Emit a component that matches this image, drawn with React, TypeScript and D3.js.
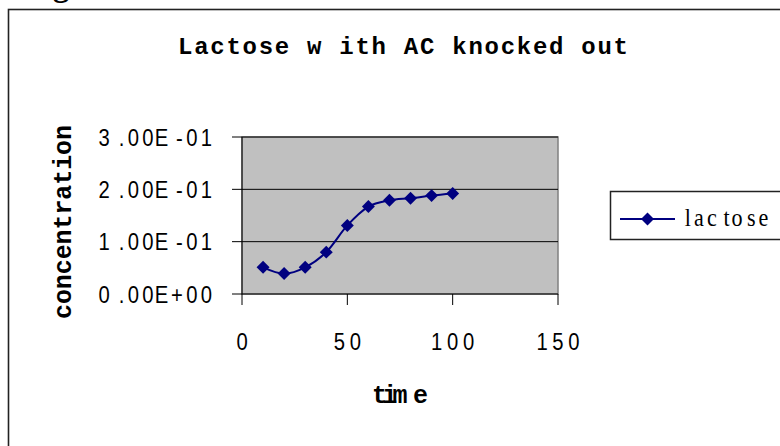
import React from "react";
import * as d3 from "d3";

const times: number[] = [10, 20, 30, 40, 50, 60, 70, 80, 90, 100];
const lactose: number[] = [0.051, 0.039, 0.051, 0.08, 0.131, 0.167, 0.179, 0.183, 0.188, 0.192];
const xTicks: number[] = [0, 50, 100, 150];
const yTicks: number[] = [0, 0.1, 0.2, 0.3];
const yTickLabels: string[] = ["0.00E+00", "1.00E-01", "2.00E-01", "3.00E-01"];
const xTickLabels: string[] = ["0", "50", "100", "150"];
const seriesName = "lactose";
const titleText = "Lactose w ith AC knocked out";
const xTitle = "tim e";
const yTitle = "concentration";

const W = 780;
const H = 446;
const plot = { left: 242, top: 137, right: 558, bottom: 294 };

const monoBold = "'Liberation Mono', 'DejaVu Sans Mono', monospace";
const sans = "'Liberation Sans', Arial, sans-serif";
const serif = "'Liberation Serif', 'DejaVu Serif', serif";

type CellProps = {
  text: string;
  x0: number;
  pitch: number;
  y: number;
  font: string;
  size: number;
  sx?: number;
  anchor?: "start" | "middle" | "end";
  weight?: string;
};

// Places each glyph in its own cell, as the old metafile renderer did.
function CellText({ text, x0, pitch, y, font, size, sx = 1, anchor = "end", weight = "normal" }: CellProps) {
  const chars = text.split("");
  return (
    <g transform={`translate(${x0},${y}) scale(${sx},1)`}>
      {chars.map((c, i) => (
        <text key={i} x={(i * pitch) / sx} y={0} textAnchor={anchor} fontFamily={font} fontSize={size} fontWeight={weight} fill="#000">
          {c}
        </text>
      ))}
    </g>
  );
}

export default function App() {
  const x = d3.scaleLinear().domain([0, 150]).range([plot.left, plot.right]);
  const y = d3.scaleLinear().domain([0, 0.3]).range([plot.bottom, plot.top]);
  const pts: [number, number][] = times.map((t, i) => [x(t), y(lactose[i])]);
  const line = d3.line().curve(d3.curveCardinal.tension(0))(pts) || "";
  const diamond = d3.symbol().type(d3.symbolSquare).size(84)() || "";
  const navy = "#000080";
  const yPitch = 14.6;
  const xPitch = 16;

  return (
    <svg
      width={W}
      height={H}
      viewBox={`0 0 ${W} ${H}`}
      style={{ position: "absolute", left: 0, top: 0, background: "#fff" }}
    >
      {/* partial heading glyph above chart */}
      <text x={53} y={-4.5} fontFamily={serif} fontWeight="bold" fontSize={32} fill="#000">g</text>
      {/* chart border */}
      <rect x={8.5} y={9.5} width={W + 20} height={H + 20} fill="#fff" stroke="#222" strokeWidth={1.6} />
      {/* title */}
      <text x={178} y={54} fontFamily={monoBold} fontWeight="bold" fontSize={24} textLength={450} lengthAdjust="spacing" fill="#000">
        {titleText}
      </text>
      {/* plot area */}
      <rect x={plot.left} y={plot.top} width={plot.right - plot.left} height={plot.bottom - plot.top} fill="#C0C0C0" stroke="#808080" strokeWidth={1.5} />
      {/* gridlines */}
      {yTicks.slice(1).map((v) => (
        <line key={"g" + v} x1={plot.left} x2={plot.right} y1={y(v)} y2={y(v)} stroke="#000" strokeWidth={1} />
      ))}
      {/* axes */}
      <line x1={plot.left} x2={plot.left} y1={plot.top} y2={plot.bottom} stroke="#000" strokeWidth={1} />
      <line x1={plot.left} x2={plot.right} y1={plot.bottom} y2={plot.bottom} stroke="#000" strokeWidth={1} />
      {yTicks.map((v, i) => (
        <g key={"yt" + v}>
          <line x1={plot.left - 10} x2={plot.left} y1={y(v)} y2={y(v)} stroke="#000" strokeWidth={1} />
          <CellText
            text={yTickLabels[i]}
            x0={212 - (yTickLabels[i].length - 1) * yPitch}
            pitch={yPitch}
            y={y(v) + 8.5}
            font={sans}
            size={23}
            sx={0.88}
            anchor="end"
          />
        </g>
      ))}
      {xTicks.map((v, i) => (
        <g key={"xt" + v}>
          <line x1={x(v)} x2={x(v)} y1={plot.bottom} y2={plot.bottom + 11} stroke="#000" strokeWidth={1} />
          <CellText
            text={xTickLabels[i]}
            x0={x(v) - ((xTickLabels[i].length - 1) * xPitch) / 2}
            pitch={xPitch}
            y={350}
            font={sans}
            size={23}
            sx={0.88}
            anchor="middle"
          />
        </g>
      ))}
      {/* series */}
      <path d={line} fill="none" stroke={navy} strokeWidth={2} />
      {pts.map((p, i) => (
        <path key={"m" + i} d={diamond} transform={`translate(${p[0]},${p[1]}) rotate(45)`} fill={navy} />
      ))}
      {/* axis titles */}
      <text x={400} y={403} textAnchor="middle" fontFamily={monoBold} fontWeight="bold" fontSize={25} textLength={56} lengthAdjust="spacing" fill="#000">
        {xTitle}
      </text>
      <text
        transform="translate(71,222) rotate(-90)"
        textAnchor="middle"
        fontFamily={monoBold}
        fontWeight="bold"
        fontSize={25}
        textLength={194}
        lengthAdjust="spacing"
        fill="#000"
      >
        {yTitle}
      </text>
      {/* legend */}
      <rect x={610.5} y={191.5} width={200} height={48} fill="#fff" stroke="#222" strokeWidth={1.5} />
      <line x1={620} x2={675} y1={219} y2={219} stroke={navy} strokeWidth={2} />
      <path d={diamond} transform="translate(647.5,219) rotate(45)" fill={navy} />
      <CellText text={seriesName} x0={691} pitch={12.9} y={226} font={serif} size={26} sx={0.85} anchor="end" />
    </svg>
  );
}
